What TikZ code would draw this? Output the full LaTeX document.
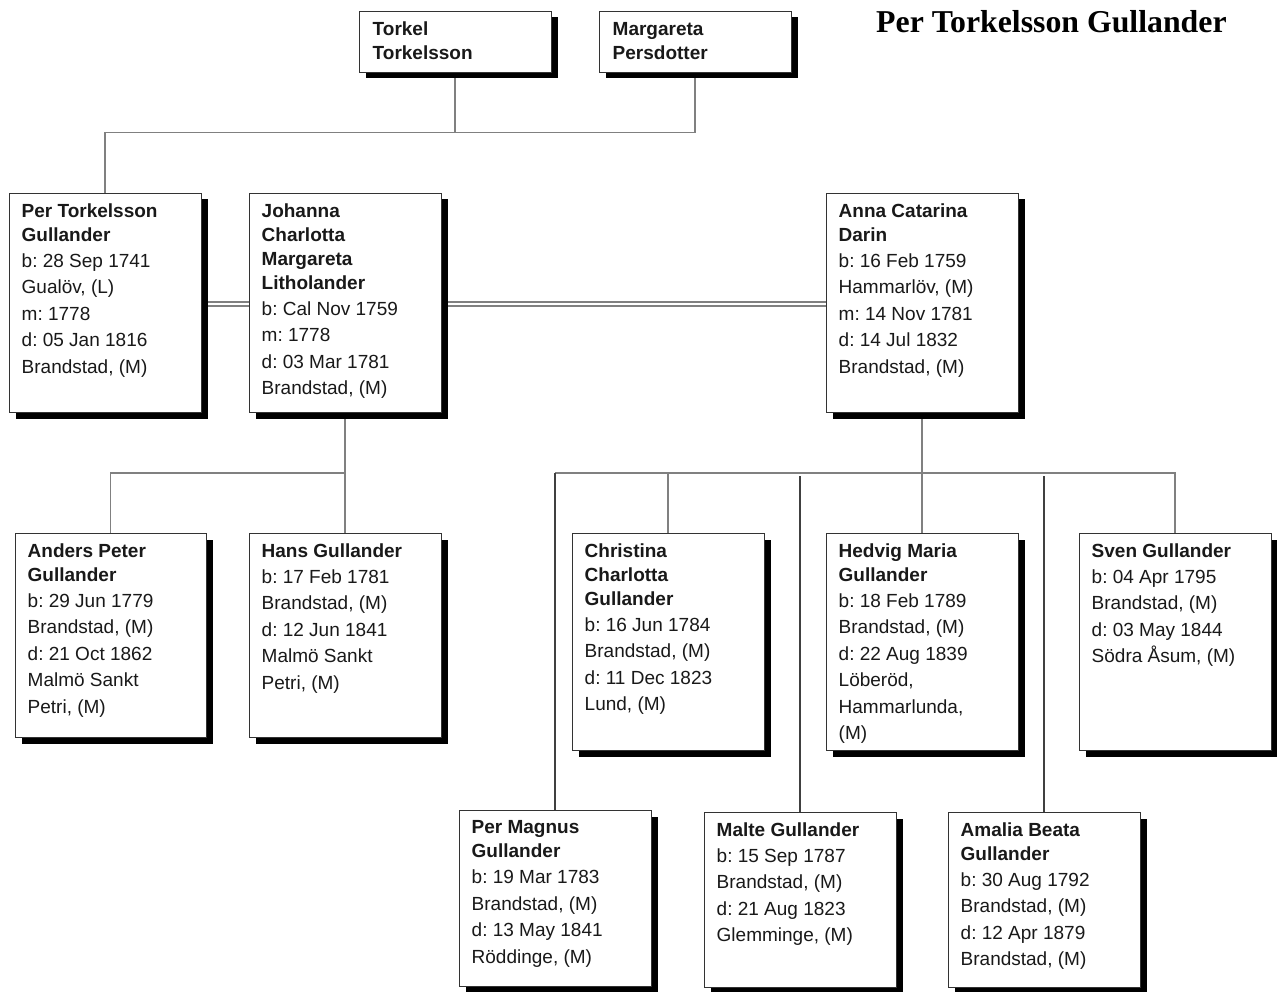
\documentclass[tikz,border=0pt]{standalone}
\usepackage{fontspec}
\setmainfont{Liberation Sans}
\newfontfamily\titlefont{Liberation Serif}
\usetikzlibrary{shadows}
\pgfdeclarelayer{back}
\pgfdeclarelayer{bg}
\pgfsetlayers{back,bg,main}
\newcommand{\bl}{\\[-2.5pt]}
\newcommand{\tl}{\\[-0.5pt]}
\frenchspacing
\begin{document}
\begin{tikzpicture}[x=1pt,y=1pt,
  box/.style={draw=black!80, line width=0.9pt, fill=white, minimum width=192pt,
    anchor=north west, inner sep=0pt, outer sep=0pt,
    drop shadow={shadow xshift=6.5pt, shadow yshift=-6.5pt, fill=black, opacity=1}},
  txt/.style={anchor=north west, align=left, inner sep=0pt, text=black!90,
    font=\frenchspacing\fontsize{19}{26.5}\selectfont},
  conn/.style={draw=black!50, line width=1.5pt},
  dconn/.style={draw=black!75, line width=1.5pt},
  ttl/.style={anchor=base west, inner sep=0pt, font=\titlefont\bfseries\fontsize{31.8}{36}\selectfont}
]
\useasboundingbox (0,0) rectangle (1277,-992);
\begin{pgfonlayer}{back}
\fill[white] (0,0) rectangle (1277,-992);
\end{pgfonlayer}

\node[ttl] (title) at (876,-33) {Per Torkelsson Gullander};

% boxes
\node[box, minimum height=61pt]  (torkel) at (359,-11) {};
\node[box, minimum height=61pt]  (marg)   at (599,-11) {};
\node[box, minimum height=219pt] (per)    at (9,-193) {};
\node[box, minimum height=219pt] (joh)    at (249,-193) {};
\node[box, minimum height=219pt] (anna)   at (826,-193) {};
\node[box, minimum height=204pt, minimum width=191pt] (anders) at (15,-533) {};
\node[box, minimum height=204pt] (hans)   at (249,-533) {};
\node[box, minimum height=217pt] (chris)  at (572,-533) {};
\node[box, minimum height=217pt] (hedvig) at (826,-533) {};
\node[box, minimum height=217pt] (sven)   at (1079,-533) {};
\node[box, minimum height=176pt] (pmag)   at (459,-810) {};
\node[box, minimum height=175pt] (malte)  at (704,-812) {};
\node[box, minimum height=175pt] (amalia) at (948,-812) {};

% texts
\node[txt] (torkel-t) at ([xshift=13.5pt,yshift=-11pt]torkel.north west) {\bfseries Torkel\bl\bfseries Torkelsson};
\node[txt] (marg-t) at ([xshift=13.5pt,yshift=-11pt]marg.north west) {\bfseries Margareta\bl\bfseries Persdotter};
\node[txt] (per-t) at ([xshift=12.5pt,yshift=-10.5pt]per.north west)
  {\bfseries Per Torkelsson\bl\bfseries Gullander\tl b: 28 Sep 1741\\Gualöv, (L)\\m: 1778\\d: 05 Jan 1816\\Brandstad, (M)};
\node[txt] (joh-t) at ([xshift=12.5pt,yshift=-10.5pt]joh.north west)
  {\bfseries Johanna\bl\bfseries Charlotta\bl\bfseries Margareta\bl\bfseries Litholander\tl b: Cal Nov 1759\\m: 1778\\d: 03 Mar 1781\\Brandstad, (M)};
\node[txt] (anna-t) at ([xshift=12.5pt,yshift=-10.5pt]anna.north west)
  {\bfseries Anna Catarina\bl\bfseries Darin\tl b: 16 Feb 1759\\Hammarlöv, (M)\\m: 14 Nov 1781\\d: 14 Jul 1832\\Brandstad, (M)};
\node[txt] (anders-t) at ([xshift=12.5pt,yshift=-10.5pt]anders.north west)
  {\bfseries Anders Peter\bl\bfseries Gullander\tl b: 29 Jun 1779\\Brandstad, (M)\\d: 21 Oct 1862\\Malmö Sankt\\Petri, (M)};
\node[txt] (hans-t) at ([xshift=12.5pt,yshift=-10.5pt]hans.north west)
  {\bfseries Hans Gullander\tl b: 17 Feb 1781\\Brandstad, (M)\\d: 12 Jun 1841\\Malmö Sankt\\Petri, (M)};
\node[txt] (chris-t) at ([xshift=12.5pt,yshift=-10.5pt]chris.north west)
  {\bfseries Christina\bl\bfseries Charlotta\bl\bfseries Gullander\tl b: 16 Jun 1784\\Brandstad, (M)\\d: 11 Dec 1823\\Lund, (M)};
\node[txt] (hedvig-t) at ([xshift=12.5pt,yshift=-10.5pt]hedvig.north west)
  {\bfseries Hedvig Maria\bl\bfseries Gullander\tl b: 18 Feb 1789\\Brandstad, (M)\\d: 22 Aug 1839\\Löberöd,\\Hammarlunda,\\(M)};
\node[txt] (sven-t) at ([xshift=12.5pt,yshift=-10.5pt]sven.north west)
  {\bfseries Sven Gullander\tl b: 04 Apr 1795\\Brandstad, (M)\\d: 03 May 1844\\Södra Åsum, (M)};
\node[txt] (pmag-t) at ([xshift=12.5pt,yshift=-10.5pt]pmag.north west)
  {\bfseries Per Magnus\bl\bfseries Gullander\tl b: 19 Mar 1783\\Brandstad, (M)\\d: 13 May 1841\\Röddinge, (M)};
\node[txt] (malte-t) at ([xshift=12.5pt,yshift=-10.5pt]malte.north west)
  {\bfseries Malte Gullander\tl b: 15 Sep 1787\\Brandstad, (M)\\d: 21 Aug 1823\\Glemminge, (M)};
\node[txt] (amalia-t) at ([xshift=12.5pt,yshift=-10.5pt]amalia.north west)
  {\bfseries Amalia Beata\bl\bfseries Gullander\tl b: 30 Aug 1792\\Brandstad, (M)\\d: 12 Apr 1879\\Brandstad, (M)};

% connectors
\coordinate (tb) at (0,-132.5);
\coordinate (cb) at (0,-473);
\coordinate (db) at (0,-476);
\begin{pgfonlayer}{bg}
\draw[conn] (torkel.south) -- (torkel.south |- tb);
\draw[conn] (marg.south) |- (per.north |- tb) -- (per.north);
% marriages
\draw[conn, line width=1.3pt] ([yshift=0.5pt]per.east) -- ([yshift=0.5pt]joh.west);
\draw[conn, line width=1.3pt] ([yshift=-3.5pt]per.east) -- ([yshift=-3.5pt]joh.west);
\draw[conn, line width=1.3pt] ([yshift=0.5pt]joh.east) -- ([yshift=0.5pt]anna.west);
\draw[conn, line width=1.3pt] ([yshift=-3.5pt]joh.east) -- ([yshift=-3.5pt]anna.west);
% Johanna's children
\draw[conn] (joh.south) -- (hans.north);
\draw[conn] (joh.south |- cb) -| (anders.north);
% Anna's children
\draw[conn] (anna.south) -- (hedvig.north);
\draw[conn] (pmag.north |- cb) -- (sven.north |- cb) -- (sven.north);
\draw[conn] (chris.north |- cb) -- (chris.north);
\draw[dconn] (pmag.north |- cb) -- (pmag.north);
\draw[dconn] (malte.north |- db) -- (malte.north);
\draw[dconn] (amalia.north |- db) -- (amalia.north);
\end{pgfonlayer}
\end{tikzpicture}
\end{document}
